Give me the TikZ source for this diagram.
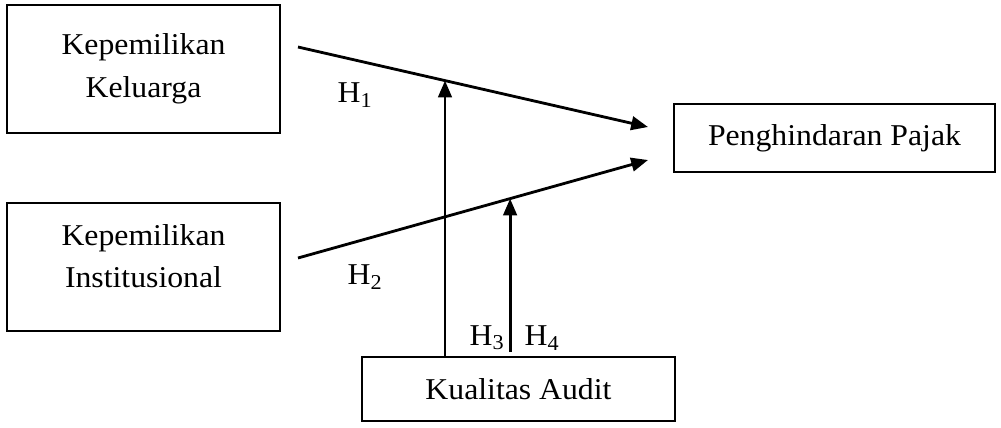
\documentclass[tikz,border=0pt]{standalone}
\usepackage{fontspec}
\setmainfont{Liberation Serif}[FakeStretch=1.05]
\usetikzlibrary{arrows.meta}

\begin{document}
\begin{tikzpicture}[
    x=0.025cm, y=-0.025cm,
    font=\fontsize{21.5}{30.5}\selectfont,
    var box/.style={draw, line width=1.8pt, align=center, inner sep=0pt},
    path arrow/.style={line width=2pt, -{Triangle[length=0.42cm, width=0.34cm]}},
    hyp/.style={inner sep=0pt}
  ]
  \useasboundingbox (0,0) rectangle (1001,428);

  % variables
  \node[var box, minimum width=6.825cm, minimum height=3.2cm] (keluarga) at (143.5, 69) {Kepemilikan\\Keluarga};
  \node[var box, minimum width=6.825cm, minimum height=3.2cm, text depth=0.55cm] (institusi) at (143.5, 267) {Kepemilikan\\Institusional};
  \node[var box, minimum width=8.025cm, minimum height=1.7cm] (pajak) at (834.5, 138) {Penghindaran Pajak};
  \node[var box, minimum width=7.825cm, minimum height=1.6cm] (audit) at (518.5, 389) {Kualitas Audit};

  \coordinate (h1_start) at (298, 47);
  \coordinate (h1_end) at (648, 127);
  \coordinate (h2_start) at (298, 258);
  \coordinate (h2_end) at (648, 160);

  \draw[path arrow] (h1_start) -- (h1_end) coordinate[pos=0.42] (mod1);
  \draw[path arrow] (h2_start) -- (h2_end) coordinate[pos=0.606] (mod2);

  % moderating arrows
  \draw[path arrow] (audit.north -| mod1) -- (mod1);
  \draw[path arrow] (audit.north -| mod2) ++(0,-4) -- (mod2);

  \node[hyp] (lab_h1) at (355, 95) {H\textsubscript{1}};
  \node[hyp] (lab_h2) at (365, 277) {H\textsubscript{2}};
  \node[hyp] (lab_h3) at (487, 338) {H\textsubscript{3}};
  \node[hyp] (lab_h4) at (542, 338) {H\textsubscript{4}};

\end{tikzpicture}
\end{document}
